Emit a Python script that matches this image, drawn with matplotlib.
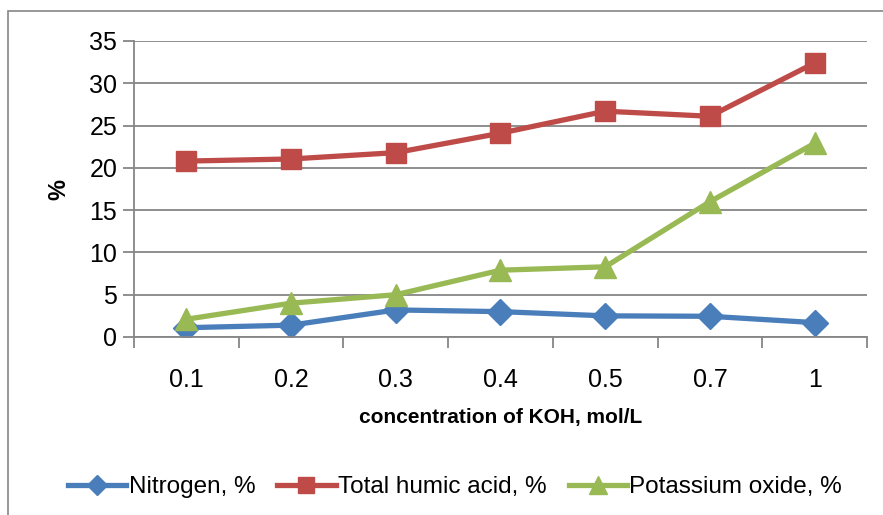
import numpy as np
import matplotlib
matplotlib.use("Agg")
import matplotlib.pyplot as plt
from matplotlib.patches import Rectangle

plt.rcParams['font.family'] = ['Liberation Sans', 'DejaVu Sans']

categories = ['0.1', '0.2', '0.3', '0.4', '0.5', '0.7', '1']
nitrogen = [1.1, 1.4, 3.2, 3.0, 2.5, 2.45, 1.7]
humic = [20.8, 21.05, 21.8, 24.1, 26.7, 26.1, 32.4]
potassium = [2.1, 4.0, 5.0, 7.9, 8.3, 16.0, 22.9]

grey = '#868686'

fig = plt.figure(figsize=(8.83, 5.15), dpi=100)
fig.patches.append(Rectangle((8 / 883, -0.1), 1.2, 1 - 11 / 515 + 0.1,
                             transform=fig.transFigure, fill=False,
                             edgecolor=grey, linewidth=1.2))

ax = fig.add_axes([134 / 883, 1 - 337 / 515, (867 - 134) / 883, (337 - 41) / 515])
x = np.arange(len(categories))

ax.plot(x, nitrogen, color='#4A7EBB', lw=3.8, marker='D', ms=13, label='Nitrogen, %')
ax.plot(x, humic, color='#BE4B48', lw=3.8, marker='s', ms=15, label='Total humic acid, %')
ax.plot(x, potassium, color='#98B954', lw=3.8, marker='^', ms=16, label='Potassium oxide, %')

ax.set_xlim(-0.5, len(categories) - 0.5)
ax.set_ylim(0, 35)
ax.set_yticks(np.arange(0, 36, 5))
ax.yaxis.grid(True, color=grey, lw=1.3)
ax.set_axisbelow(True)

ax.set_xticks(x)
ax.set_xticklabels(categories)
ax.set_xticks(np.arange(-0.5, len(categories), 1), minor=True)
ax.tick_params(axis='x', which='major', length=0, pad=22, labelsize=18)
ax.tick_params(axis='x', which='minor', length=8, width=1.3, color=grey, direction='out')
ax.tick_params(axis='y', length=8, width=1.3, color=grey, labelsize=18, pad=4)

for s in ['top', 'right']:
    ax.spines[s].set_visible(False)
for s in ['left', 'bottom']:
    ax.spines[s].set_color(grey)
    ax.spines[s].set_linewidth(1.3)

ax.set_xlabel('concentration of KOH, mol/L', fontsize=15, fontweight='bold', labelpad=12)
ax.set_ylabel('%', fontsize=17, fontweight='bold', labelpad=14)

fig.legend(loc='center', bbox_to_anchor=(455 / 883, 1 - 487 / 515), ncol=3,
           frameon=False, fontsize=17.5, handlelength=2.4, handletextpad=0.1,
           columnspacing=0.9, markerscale=0.8)

fig.savefig('out.png', dpi=100)
